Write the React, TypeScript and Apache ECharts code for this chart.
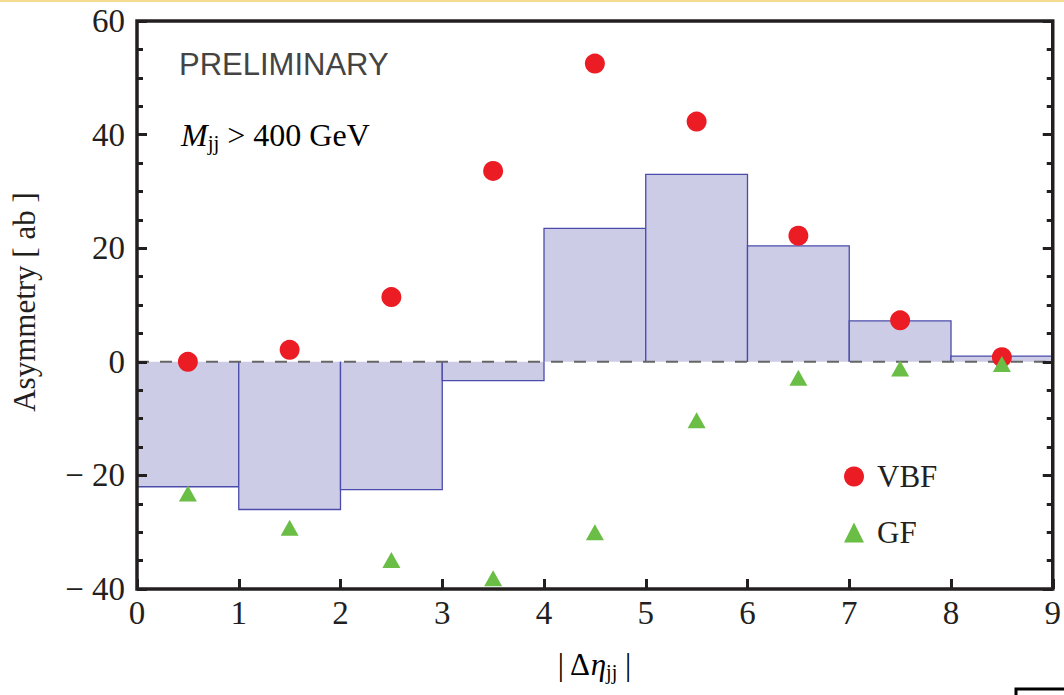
import React, { useEffect, useRef } from "react";
import * as echarts from "echarts";

const binStart = [0, 1, 2, 3, 4, 5, 6, 7, 8];
const binEnd = [1, 2, 3, 4, 5, 6, 7, 8, 9];
const histValues = [-22, -26, -22.5, -3.3, 23.5, 33, 20.4, 7.2, 1.0];
const binCenters = [0.5, 1.5, 2.5, 3.5, 4.5, 5.5, 6.5, 7.5, 8.5];
const vbfValues = [0, 2.1, 11.4, 33.6, 52.5, 42.3, 22.2, 7.3, 0.8];
const gfValues = [-23.2, -29.2, -34.9, -38.1, -30, -10.3, -2.8, -1.2, -0.4];
const xTicks = { min: 0, max: 9, interval: 1 };
const yTicks = { min: -40, max: 60, interval: 20 };

const SERIF = "'Liberation Serif', 'DejaVu Serif', serif";
const SANS = "'Liberation Sans', Arial, sans-serif";
const INK = "#231f20";

export default function App() {
  const ref = useRef<HTMLDivElement>(null);
  useEffect(() => {
    if (!ref.current) return;
    const chart = echarts.init(ref.current, undefined, { renderer: "svg" });
    const histData = binStart.map((s, i) => [s, binEnd[i], histValues[i]]);
    const vbfData = binCenters.map((c, i) => [c, vbfValues[i]]);
    const gfData = binCenters.map((c, i) => [c, gfValues[i]]);
    const yFmt = (v: number) => (v < 0 ? "\u2212 " + Math.abs(v) : String(v));
    chart.setOption({
      animation: false,
      backgroundColor: "#ffffff",
      grid: {
        left: 137,
        right: 6,
        top: 21,
        bottom: 106,
        show: true,
        borderColor: INK,
        borderWidth: 3.5,
        backgroundColor: "transparent",
        z: 10,
      },
      xAxis: [
        {
          type: "value",
          min: xTicks.min,
          max: xTicks.max,
          interval: xTicks.interval,
          position: "bottom",
          axisLine: { show: false, onZero: false },
          axisTick: { show: true, inside: true, length: 10, lineStyle: { color: INK, width: 3 } },
          splitLine: { show: false },
          axisLabel: { margin: 7, color: INK, fontFamily: SERIF, fontSize: 33 },
          z: 10,
        },
      ],
      yAxis: [
        {
          type: "value",
          min: yTicks.min,
          max: yTicks.max,
          interval: yTicks.interval,
          position: "left",
          axisLine: { show: false, onZero: false },
          axisTick: { show: true, inside: true, length: 10, lineStyle: { color: INK, width: 3 } },
          minorTick: { show: true, splitNumber: 4, length: 6, lineStyle: { color: INK, width: 3 } },
          splitLine: { show: false },
          axisLabel: { margin: 12, color: INK, fontFamily: SERIF, fontSize: 33, formatter: yFmt },
          z: 10,
        },
        {
          type: "value",
          min: yTicks.min,
          max: yTicks.max,
          interval: yTicks.interval,
          position: "right",
          axisLine: { show: false, onZero: false },
          axisTick: { show: true, inside: true, length: 10, lineStyle: { color: INK, width: 3 } },
          minorTick: { show: true, splitNumber: 4, length: 6, lineStyle: { color: INK, width: 3 } },
          splitLine: { show: false },
          axisLabel: { show: false },
          z: 10,
        },
      ],
      legend: {
        data: [
          { name: "VBF", icon: "circle" },
          { name: "GF", icon: "triangle" },
        ],
        orient: "vertical",
        left: 839,
        top: 456,
        itemWidth: 20,
        itemHeight: 20,
        itemGap: 25,
        textStyle: {
          fontFamily: SERIF,
          fontSize: 31,
          color: INK,
          padding: [0, 0, 0, 8],
        },
      },
      series: [
        {
          type: "custom",
          name: "hist",
          data: histData,
          z: 1,
          renderItem: (params: any, api: any) => {
            const x0 = api.value(0);
            const x1 = api.value(1);
            const y = api.value(2);
            const a = api.coord([x0, 0]);
            const b = api.coord([x1, y]);
            const top = Math.min(a[1], b[1]);
            const h = Math.abs(a[1] - b[1]);
            return {
              type: "group",
              children: [
                {
                  type: "rect",
                  shape: { x: a[0], y: top, width: b[0] - a[0], height: h },
                  style: { fill: "#cdcce6" },
                },
                {
                  type: "polyline",
                  shape: {
                    points: [
                      [a[0], a[1]],
                      [a[0], b[1]],
                      [b[0], b[1]],
                      [b[0], a[1]],
                    ],
                  },
                  style: { stroke: "#4b4bab", lineWidth: 1.3, fill: null },
                },
              ],
            };
          },
        },
        {
          type: "line",
          name: "zero",
          data: [
            [xTicks.min, 0],
            [xTicks.max, 0],
          ],
          symbol: "none",
          z: 2,
          lineStyle: { color: "#666666", width: 2, type: [12, 11] },
          silent: true,
        },
        {
          type: "scatter",
          name: "VBF",
          data: vbfData,
          symbol: "circle",
          symbolSize: 20,
          itemStyle: { color: "#ec1c24", opacity: 1 },
          z: 3,
        },
        {
          type: "scatter",
          name: "GF",
          data: gfData,
          symbol: "triangle",
          symbolSize: [18, 16],
          itemStyle: { color: "#6abd45", opacity: 1 },
          z: 4,
        },
      ],
      graphic: [
        {
          type: "rect",
          shape: { x: 0, y: 0, width: 1064, height: 2 },
          style: { fill: "#f6dc8e" },
        },
        {
          type: "rect",
          shape: { x: 1016, y: 689, width: 60, height: 20 },
          style: { fill: "#ffffff", stroke: "#000000", lineWidth: 3 },
        },
        {
          type: "text",
          left: 179,
          top: 49,
          style: {
            text: "PRELIMINARY",
            font: `31px ${SANS}`,
            fill: "#444444",
          },
        },
        {
          type: "text",
          left: 181,
          top: 116,
          style: {
            text: "{i|M}{s|jj}{n| > 400 GeV}",
            rich: {
              i: { fontFamily: SERIF, fontStyle: "italic", fontSize: 32, lineHeight: 36, color: INK },
              s: { fontFamily: SERIF, fontSize: 21, lineHeight: 20, padding: [16, 0, 0, 0], color: INK },
              n: { fontFamily: SERIF, fontSize: 32, lineHeight: 36, color: INK },
            },
          },
        },
        {
          type: "text",
          x: 24,
          y: 302,
          rotation: Math.PI / 2,
          style: {
            text: "Asymmetry [ ab ]",
            font: `31px ${SERIF}`,
            fill: INK,
            align: "center",
            verticalAlign: "middle",
          },
        },
        {
          type: "text",
          x: 594,
          y: 664,
          style: {
            text: "{n|| Δ}{i|η}{s|jj}{n| |}",
            align: "center",
            verticalAlign: "middle",
            rich: {
              n: { fontFamily: SERIF, fontSize: 31, lineHeight: 36, color: INK },
              i: { fontFamily: SERIF, fontStyle: "italic", fontSize: 31, lineHeight: 36, color: INK },
              s: { fontFamily: SERIF, fontSize: 20, lineHeight: 20, padding: [16, 0, 0, 0], color: INK },
            },
          },
        },
      ],
    });
    return () => chart.dispose();
  }, []);
  return (
    <div
      ref={ref}
      style={{ position: "fixed", left: 0, top: 0, width: 1064, height: 695, background: "#fff" }}
    />
  );
}
